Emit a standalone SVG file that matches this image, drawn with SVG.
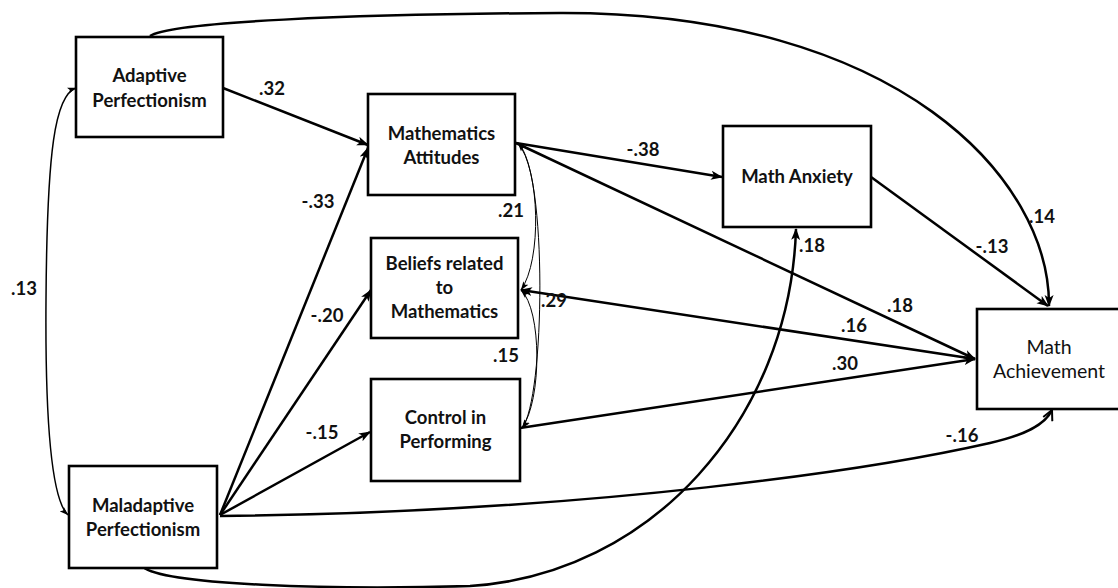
<svg xmlns="http://www.w3.org/2000/svg" width="1118" height="588" viewBox="0 0 1118 588">
<style>
.box{fill:#fff;stroke:#000;stroke-width:2.6}
.nt{font-family:Lato,"Liberation Sans",sans-serif;font-size:18.5px;font-weight:bold;text-anchor:middle;fill:#111}
.nr{font-weight:normal;font-size:19.5px}
.lb{font-family:Lato,"Liberation Sans",sans-serif;font-size:18.5px;font-weight:bold;text-anchor:middle;fill:#111}
.thick{fill:none;stroke:#000;stroke-width:2.5}
.thin{fill:none;stroke:#000;stroke-width:1}
.mid{fill:none;stroke:#000;stroke-width:1.5}
</style>
<defs>
<marker id="ah" markerUnits="userSpaceOnUse" markerWidth="12" markerHeight="10" viewBox="0 0 12 10" refX="11" refY="5" orient="auto-start-reverse">
<path d="M0,0.5 L12,5 L0,9.5 L3,5 z" fill="#000"/>
</marker>
<marker id="as" markerUnits="userSpaceOnUse" markerWidth="9" markerHeight="7" viewBox="0 0 9 7" refX="8.5" refY="3.5" orient="auto-start-reverse">
<path d="M0,0.5 L9,3.5 L0,6.5 L2,3.5 z" fill="#000"/>
</marker>
<marker id="ao" markerUnits="userSpaceOnUse" markerWidth="12" markerHeight="12" viewBox="0 0 12 12" refX="11" refY="6" orient="auto">
<path d="M1,1 L11,6 L1,11" fill="none" stroke="#000" stroke-width="2"/>
</marker>
</defs>

<g id="connectors">
<path class="thick" d="M223,88 L368,145" marker-end="url(#ah)"/>
<path class="thick" d="M220,515 L368,148" marker-end="url(#ah)"/>
<path class="thick" d="M220,515 L371,290" marker-end="url(#ah)"/>
<path class="thick" d="M220,515 L370,432" marker-end="url(#ah)"/>
<path class="thick" d="M220,516 C600,512 880,468 990,443 C1025,435 1045,425 1052,410" marker-end="url(#ao)"/>
<path class="thick" d="M143,567 C165,585 330,590 470,586 C650,575 790,420 796,229" marker-end="url(#ah)"/>
<path class="thick" d="M150,36 C170,22 350,14 560,13 C900,12 1050,180 1049,306" marker-end="url(#ah)"/>
<path class="thick" d="M516,143 L722,177" marker-end="url(#ah)"/>
<path class="thick" d="M516,143 L975,359" marker-end="url(#ah)"/>
<path class="thick" d="M975,359 L521,290" marker-end="url(#ah)"/>
<path class="thick" d="M520,428 L975,359" marker-end="url(#ah)"/>
<path class="thick" d="M871,177 L1048,306" marker-end="url(#ah)"/>
<path class="mid" d="M76,88 C55,95 47,150 46,300 C45,430 52,500 68,515" marker-start="url(#as)" marker-end="url(#as)"/>
<path class="thin" d="M518,143 C540,170 542,260 521,290" marker-start="url(#as)" marker-end="url(#as)"/>
<path class="thin" d="M518,143 C548,170 545,400 522,428" marker-start="url(#as)" marker-end="url(#as)"/>
<path class="thin" d="M521,290 C542,310 542,400 522,428" marker-start="url(#as)" marker-end="url(#as)"/>
</g>

<g id="labels">
<text class="lb" x="272" y="95">.32</text>
<text class="lb" x="318" y="208">-.33</text>
<text class="lb" x="511" y="217">.21</text>
<text class="lb" x="24" y="295">.13</text>
<text class="lb" x="327" y="322">-.20</text>
<text class="lb" x="322" y="439">-.15</text>
<text class="lb" x="506" y="362">.15</text>
<text class="lb" x="554" y="307">.29</text>
<text class="lb" x="643" y="156">-.38</text>
<text class="lb" x="812" y="252">.18</text>
<text class="lb" x="992" y="253">-.13</text>
<text class="lb" x="1042" y="223">.14</text>
<text class="lb" x="900" y="312">.18</text>
<text class="lb" x="854" y="332">.16</text>
<text class="lb" x="845" y="370">.30</text>
<text class="lb" x="962" y="442">-.16</text>
</g>

<g id="adaptive">
<rect class="box" x="76" y="37" width="147" height="100"/>
<text class="nt" x="149.5" y="82">Adaptive</text>
<text class="nt" x="149.5" y="107">Perfectionism</text>
</g>
<g id="maladaptive">
<rect class="box" x="69" y="466" width="148" height="102"/>
<text class="nt" x="143" y="512">Maladaptive</text>
<text class="nt" x="143" y="536">Perfectionism</text>
</g>
<g id="attitudes">
<rect class="box" x="368" y="94" width="147" height="101"/>
<text class="nt" x="441.5" y="140">Mathematics</text>
<text class="nt" x="441.5" y="164">Attitudes</text>
</g>
<g id="beliefs">
<rect class="box" x="371" y="238" width="147" height="100"/>
<text class="nt" x="444.5" y="270">Beliefs related</text>
<text class="nt" x="444.5" y="294">to</text>
<text class="nt" x="444.5" y="318">Mathematics</text>
</g>
<g id="control">
<rect class="box" x="371" y="379" width="149" height="102"/>
<text class="nt" x="445.5" y="424">Control in</text>
<text class="nt" x="445.5" y="448">Performing</text>
</g>
<g id="anxiety">
<rect class="box" x="723" y="126" width="148" height="101"/>
<text class="nt" x="797" y="183">Math Anxiety</text>
</g>
<g id="achievement">
<rect class="box" x="977" y="309" width="144" height="100"/>
<text class="nt nr" x="1049" y="354">Math</text>
<text class="nt nr" x="1049" y="378">Achievement</text>
</g>
</svg>
